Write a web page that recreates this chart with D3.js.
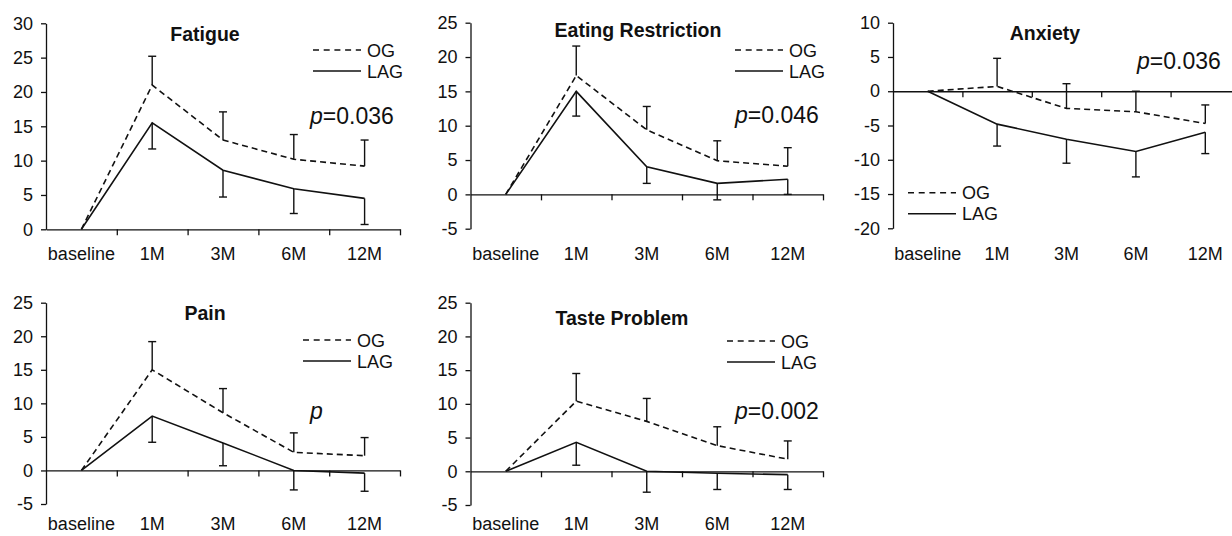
<!DOCTYPE html>
<html>
<head>
<meta charset="utf-8">
<script src="https://cdn.jsdelivr.net/npm/d3@7"></script>
<style>
  body { margin: 0; background: #fff; }
  text { font-family: "Liberation Sans", Arial, sans-serif; fill: #111; }
</style>
</head>
<body>
<div id="chart"></div>
<script>
// Data
var timepoints = ["baseline", "1M", "3M", "6M", "12M"];

var fatigueOG = [0, 21.0, 13.0, 10.2, 9.2];
var fatigueOGUpper = [null, 25.2, 17.1, 13.8, 13.0];
var fatigueLAG = [0, 15.5, 8.6, 5.9, 4.5];
var fatigueLAGLower = [null, 11.7, 4.7, 2.3, 0.7];

var eatingOG = [0, 17.3, 9.4, 4.9, 4.1];
var eatingOGUpper = [null, 21.6, 12.8, 7.8, 6.8];
var eatingLAG = [0, 15.0, 4.0, 1.6, 2.2];
var eatingLAGLower = [null, 11.4, 1.6, -0.8, 0.0];

var anxietyOG = [0, 0.7, -2.5, -3.0, -4.7];
var anxietyOGUpper = [null, 4.8, 1.1, 0.0, -2.0];
var anxietyLAG = [0, -4.8, -7.0, -8.8, -6.0];
var anxietyLAGLower = [null, -8.0, -10.5, -12.5, -9.1];

var painOG = [0, 15.0, 8.6, 2.7, 2.2];
var painOGUpper = [null, 19.2, 12.2, 5.6, 4.9];
var painLAG = [0, 8.1, 4.1, 0.0, -0.4];
var painLAGLower = [null, 4.2, 0.7, -2.9, -3.1];

var tasteOG = [0, 10.4, 7.4, 3.8, 1.8];
var tasteOGUpper = [null, 14.5, 10.8, 6.6, 4.5];
var tasteLAG = [0, 4.3, 0.0, -0.3, -0.5];
var tasteLAGLower = [null, 0.9, -3.1, -2.7, -2.7];

var ticks0to30 = [0, 5, 10, 15, 20, 25, 30];
var ticksM5to25 = [-5, 0, 5, 10, 15, 20, 25];
var ticksM20to10 = [-20, -15, -10, -5, 0, 5, 10];

var titles = ["Fatigue", "Eating Restriction", "Anxiety", "Pain", "Taste Problem"];
var pValues = ["0.036", "0.046", "0.036", "", "0.002"];
var seriesNames = ["OG", "LAG"];

var svg = d3.select("#chart")
  .append("svg")
  .attr("width", 1232)
  .attr("height", 536);

// Layout of each small panel (pixel boxes taken from the figure)
var panels = [
  { title: titles[0], og: fatigueOG, ogUp: fatigueOGUpper, lag: fatigueLAG, lagLo: fatigueLAGLower,
    ticks: ticks0to30, x0: 46, x1: 400, yTop: 23.3, yBot: 229.3, labelY: 260,
    titleX: 205, titleY: 41, legX: 313, legY: 50, pX: 310, pY: 124, p: pValues[0] },
  { title: titles[1], og: eatingOG, ogUp: eatingOGUpper, lag: eatingLAG, lagLo: eatingLAGLower,
    ticks: ticksM5to25, x0: 470.5, x1: 823, yTop: 22.7, yBot: 228.7, labelY: 260,
    titleX: 638, titleY: 37, legX: 735, legY: 50, pX: 735, pY: 123, p: pValues[1] },
  { title: titles[2], og: anxietyOG, ogUp: anxietyOGUpper, lag: anxietyLAG, lagLo: anxietyLAGLower,
    ticks: ticksM20to10, x0: 893, x1: 1240, yTop: 22.7, yBot: 228.3, labelY: 260,
    titleX: 1045, titleY: 40, legX: 908, legY: 192.7, pX: 1137, pY: 68.5, p: pValues[2] },
  { title: titles[3], og: painOG, ogUp: painOGUpper, lag: painLAG, lagLo: painLAGLower,
    ticks: ticksM5to25, x0: 46, x1: 400, yTop: 302.7, yBot: 504, labelY: 530,
    titleX: 205, titleY: 320, legX: 303, legY: 340, pX: 310, pY: 419, p: pValues[3] },
  { title: titles[4], og: tasteOG, ogUp: tasteOGUpper, lag: tasteLAG, lagLo: tasteLAGLower,
    ticks: ticksM5to25, x0: 470.5, x1: 823, yTop: 302.7, yBot: 505, labelY: 530,
    titleX: 622, titleY: 325, legX: 727, legY: 341, pX: 735, pY: 418.5, p: pValues[4] }
];

panels.forEach(function(p) {
  var g = svg.append("g");

  // scales
  var xBand = d3.scaleBand().domain(timepoints).range([p.x0, p.x1]);
  var xEdge = d3.scaleLinear().domain([0, timepoints.length]).range([p.x0, p.x1]);
  var yScale = d3.scaleLinear()
    .domain([d3.min(p.ticks), d3.max(p.ticks)])
    .range([p.yBot, p.yTop]);
  var cx = function(i) { return xBand(timepoints[i]) + xBand.bandwidth() / 2; };

  // y axis
  var yAxis = g.append("g")
    .attr("transform", "translate(" + p.x0 + ",0)")
    .call(d3.axisLeft(yScale)
      .tickValues(p.ticks)
      .tickSize(5)
      .tickSizeOuter(0)
      .tickPadding(8)
      .tickFormat(function(d) { return String(d); }));
  yAxis.attr("font-family", null).attr("font-size", null);
  yAxis.selectAll("text").style("font-size", "18px").attr("fill", "#111");
  yAxis.selectAll("path, line").attr("stroke", "#111").attr("stroke-width", 1.3);

  // x axis at zero, ticks on band edges
  var xAxis = g.append("g")
    .attr("transform", "translate(0," + yScale(0) + ")")
    .call(d3.axisBottom(xEdge)
      .tickValues(d3.range(1, timepoints.length + 1))
      .tickSize(6)
      .tickSizeOuter(0)
      .tickFormat(""));
  xAxis.selectAll("path, line").attr("stroke", "#111").attr("stroke-width", 1.3);

  // x labels under the panel
  g.selectAll(".xlab")
    .data(timepoints)
    .enter()
    .append("text")
    .attr("x", function(d) { return xBand(d) + xBand.bandwidth() / 2; })
    .attr("y", p.labelY)
    .attr("text-anchor", "middle")
    .style("font-size", "18px")
    .text(function(d) { return d; });

  // lines
  var line = d3.line()
    .x(function(d, i) { return cx(i); })
    .y(function(d) { return yScale(d); });

  g.append("path")
    .datum(p.og)
    .attr("d", line)
    .attr("fill", "none")
    .attr("stroke", "#111")
    .attr("stroke-width", 1.6)
    .attr("stroke-dasharray", "6,4");

  g.append("path")
    .datum(p.lag)
    .attr("d", line)
    .attr("fill", "none")
    .attr("stroke", "#111")
    .attr("stroke-width", 1.6);

  // error bars: OG goes up, LAG goes down
  var bars = [];
  p.og.forEach(function(v, i) { if (p.ogUp[i] !== null) bars.push({ i: i, from: v, to: p.ogUp[i] }); });
  p.lag.forEach(function(v, i) { if (p.lagLo[i] !== null) bars.push({ i: i, from: v, to: p.lagLo[i] }); });

  g.selectAll(".err")
    .data(bars)
    .enter()
    .append("line")
    .attr("x1", function(d) { return cx(d.i); })
    .attr("x2", function(d) { return cx(d.i); })
    .attr("y1", function(d) { return yScale(d.from); })
    .attr("y2", function(d) { return yScale(d.to); })
    .attr("stroke", "#111")
    .attr("stroke-width", 1.4);

  g.selectAll(".cap")
    .data(bars)
    .enter()
    .append("line")
    .attr("x1", function(d) { return cx(d.i) - 4; })
    .attr("x2", function(d) { return cx(d.i) + 4; })
    .attr("y1", function(d) { return yScale(d.to); })
    .attr("y2", function(d) { return yScale(d.to); })
    .attr("stroke", "#111")
    .attr("stroke-width", 1.4);

  // title
  g.append("text")
    .attr("x", p.titleX)
    .attr("y", p.titleY)
    .attr("text-anchor", "middle")
    .style("font-size", "19.5px")
    .style("font-weight", "bold")
    .text(p.title);

  // legend
  var leg = g.append("g");
  seriesNames.forEach(function(name, k) {
    var ly = p.legY + k * 21;
    leg.append("line")
      .attr("x1", p.legX)
      .attr("x2", p.legX + 48)
      .attr("y1", ly)
      .attr("y2", ly)
      .attr("stroke", "#111")
      .attr("stroke-width", 1.4)
      .attr("stroke-dasharray", k === 0 ? "6,4.7" : null);
    leg.append("text")
      .attr("x", p.legX + 54)
      .attr("y", ly + 6.5)
      .style("font-size", "18px")
      .text(name);
  });

  // p value
  var pt = g.append("text")
    .attr("x", p.pX)
    .attr("y", p.pY)
    .style("font-size", "23px");
  pt.append("tspan").style("font-style", "italic").text("p");
  if (p.p !== "") {
    pt.append("tspan").text("=" + p.p);
  }
});
</script>
</body>
</html>
